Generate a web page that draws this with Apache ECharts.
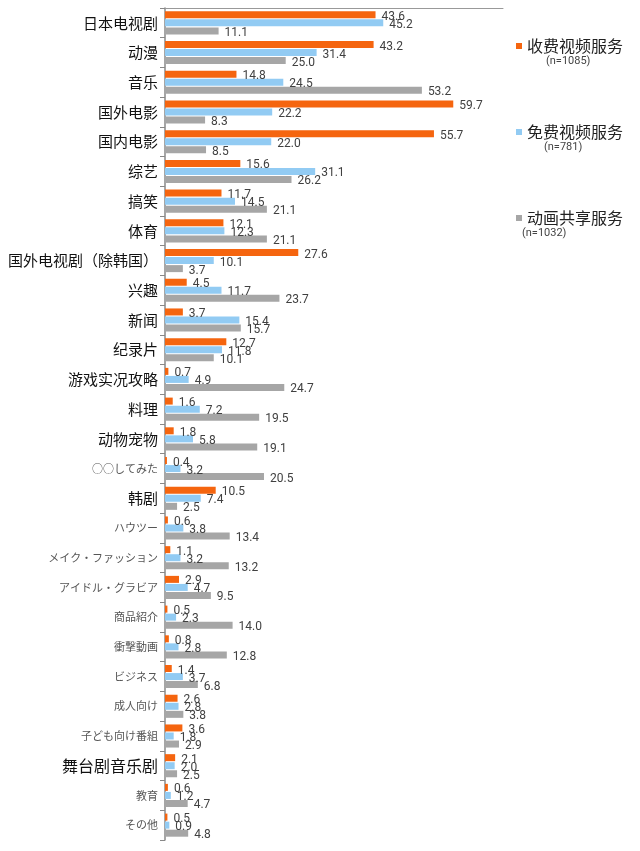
<!DOCTYPE html>
<html>
<head>
<meta charset="utf-8">
<script src="https://cdn.jsdelivr.net/npm/echarts@6/dist/echarts.min.js"></script>
<style>
  html, body { margin: 0; padding: 0; background: #fff; }
  #chart { width: 640px; height: 851px; }
</style>
</head>
<body>
<div id="chart"></div>
<script>
  // categories, top to bottom
  var categories = ['日本电视剧', '动漫', '音乐', '国外电影', '国内电影', '综艺', '搞笑', '体育',
    '国外电视剧（除韩国）', '兴趣', '新闻', '纪录片', '游戏实况攻略', '料理', '动物宠物',
    '○○してみた', '韩剧', 'ハウツー', 'メイク・ファッション', 'アイドル・グラビア', '商品紹介',
    '衝撃動画', 'ビジネス', '成人向け', '子ども向け番組', '舞台剧音乐剧', '教育', 'その他'];
  // labels written in japanese (drawn smaller, grey)
  var jpLabels = ['○○してみた', 'ハウツー', 'メイク・ファッション', 'アイドル・グラビア', '商品紹介',
    '衝撃動画', 'ビジネス', '成人向け', '子ども向け番組', '教育', 'その他'];

  var seriesNames = ['收费视频服务', '免费视频服务', '动画共享服务'];
  var sampleSizes = ['(n=1085)', '(n=781)', '(n=1032)'];

  var paidData = [43.6, 43.2, 14.8, 59.7, 55.7, 15.6, 11.7, 12.1, 27.6, 4.5, 3.7, 12.7, 0.7, 1.6, 1.8,
    0.4, 10.5, 0.6, 1.1, 2.9, 0.5, 0.8, 1.4, 2.6, 3.6, 2.1, 0.6, 0.5];
  var freeData = [45.2, 31.4, 24.5, 22.2, 22.0, 31.1, 14.5, 12.3, 10.1, 11.7, 15.4, 11.8, 4.9, 7.2, 5.8,
    3.2, 7.4, 3.8, 3.2, 4.7, 2.3, 2.8, 3.7, 2.8, 1.8, 2.0, 1.2, 0.9];
  var shareData = [11.1, 25.0, 53.2, 8.3, 8.5, 26.2, 21.1, 21.1, 3.7, 23.7, 15.7, 10.1, 24.7, 19.5, 19.1,
    20.5, 2.5, 13.4, 13.2, 9.5, 14.0, 12.8, 6.8, 3.8, 2.9, 2.5, 4.7, 4.8];

  var colors = ['#F5650F', '#92CBF3', '#A6A6A6'];

  var chart = echarts.init(document.getElementById('chart'));

  function barSeries(name, data, color) {
    return {
      name: name,
      type: 'bar',
      data: data,
      barWidth: 7,
      barGap: '15%',
      itemStyle: { color: color },
      label: {
        show: true,
        position: 'right',
        distance: 6,
        offset: [0, 2],
        color: '#404040',
        fontSize: 12,
        fontFamily: 'Roboto',
        formatter: function (p) { return p.value.toFixed(1); }
      }
    };
  }

  var option = {
    animation: false,
    backgroundColor: '#fff',
    color: colors,
    grid: { left: 165, right: 137, top: 8, bottom: 11, containLabel: false },
    xAxis: {
      type: 'value',
      position: 'top',
      min: 0,
      max: 70,
      axisLine: { show: true, lineStyle: { color: '#999', width: 1 } },
      axisTick: { show: false },
      axisLabel: { show: false },
      splitLine: { show: false }
    },
    yAxis: {
      type: 'category',
      inverse: true,
      data: categories,
      axisLine: { show: true, lineStyle: { color: '#888', width: 1.5 } },
      axisTick: { show: true, length: 5, lineStyle: { color: '#888' } },
      axisLabel: {
        margin: 7,
        formatter: function (v) {
          if (jpLabels.indexOf(v) >= 0) return '{jp|' + v + '}';
          if (v === '舞台剧音乐剧') return '{big|' + v + '}';
          return '{cn|' + v + '}';
        },
        rich: {
          cn: { fontSize: 15, color: '#111', fontFamily: 'Noto Sans CJK SC' },
          big: { fontSize: 16, color: '#111', fontFamily: 'Noto Sans CJK SC' },
          jp: { fontSize: 11, color: '#555', fontFamily: 'Noto Sans CJK JP' }
        }
      }
    },
    legend: {
      orient: 'vertical',
      left: 511,
      top: 33,
      itemGap: 70,
      itemWidth: 6,
      itemHeight: 6,
      icon: 'rect',
      textStyle: { fontSize: 16, color: '#222', fontFamily: 'Noto Sans CJK SC' },
      data: seriesNames
    },
    graphic: [
      { type: 'text', left: 546, top: 56, style: { text: sampleSizes[0], fontSize: 11, fill: '#444', fontFamily: 'Roboto' } },
      { type: 'text', left: 544, top: 142, style: { text: sampleSizes[1], fontSize: 11, fill: '#444', fontFamily: 'Roboto' } },
      { type: 'text', left: 522, top: 228, style: { text: sampleSizes[2], fontSize: 11, fill: '#444', fontFamily: 'Roboto' } }
    ],
    series: [
      barSeries(seriesNames[0], paidData, colors[0]),
      barSeries(seriesNames[1], freeData, colors[1]),
      barSeries(seriesNames[2], shareData, colors[2])
    ]
  };

  chart.setOption(option);
</script>
</body>
</html>
